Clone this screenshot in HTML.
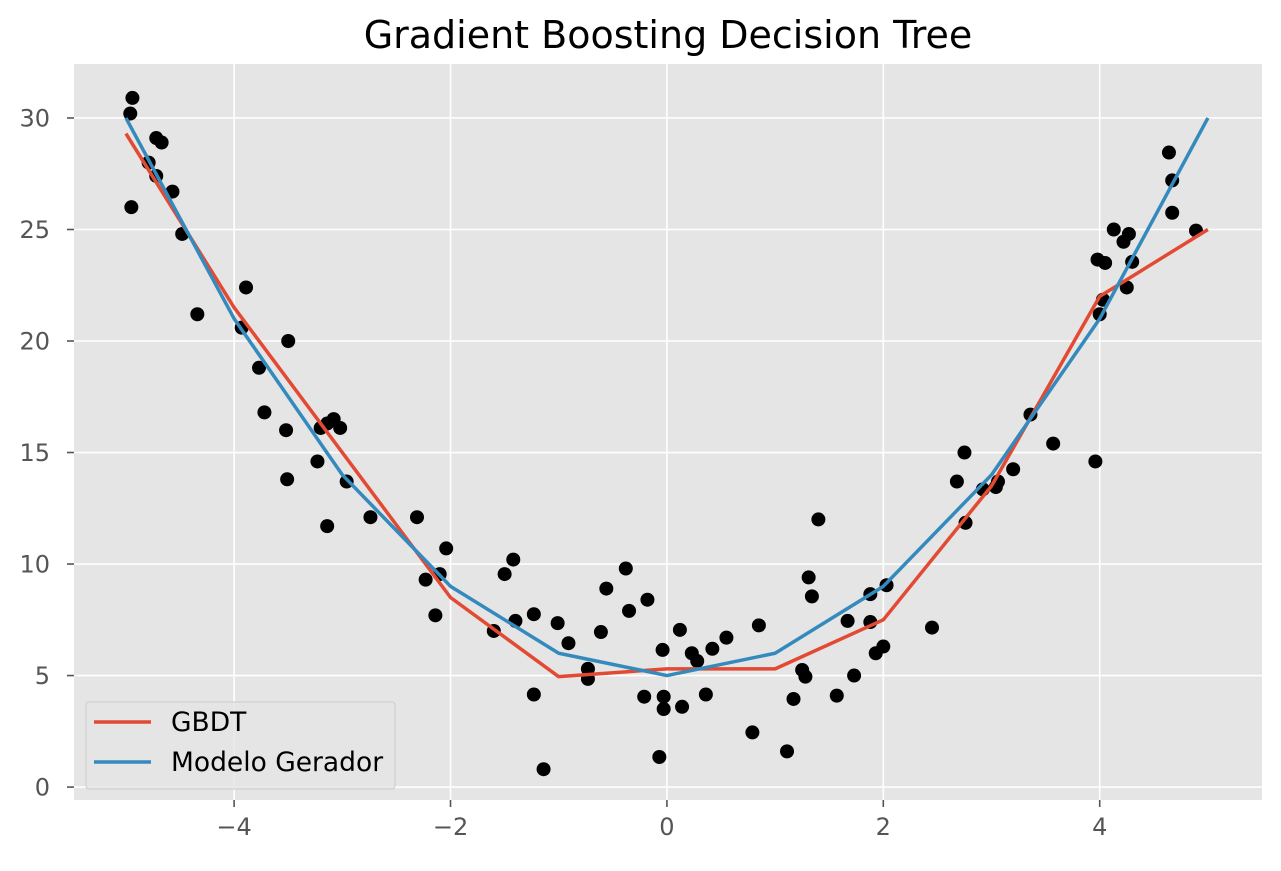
<!DOCTYPE html>
<html><head><meta charset="utf-8"><style>
body{margin:0;background:#fff;}
svg text{font-family:"DejaVu Sans","Liberation Sans",sans-serif;}
</style></head><body>
<svg id="chart" width="1281" height="866" xmlns="http://www.w3.org/2000/svg"></svg>
<script>
const xTicks=[-4,-2,0,2,4];
const yTicks=[0,5,10,15,20,25,30];
const modelX=[-5,-4,-3,-2,-1,0,1,2,3,4,5];
const gbdtY=[29.3,21.5,15,8.5,4.95,5.3,5.3,7.5,13.5,22,25];
const genY=[30,21,14,9,6,5,6,9,14,21,30];
const ptX=[-4.96,-4.94,-4.95,-4.79,-4.72,-4.67,-4.72,-4.57,-4.48,-4.34,-3.89,-3.93,-3.77,-3.72,-3.50,-3.52,-3.51,-3.23,-3.20,-3.14,-3.08,-3.02,-3.14,-2.96,-2.74,-2.31,-2.23,-2.10,-2.04,-2.14,-1.60,-1.50,-1.42,-1.40,-1.23,-1.23,-1.14,-1.01,-0.91,-0.73,-0.73,-0.61,-0.56,-0.38,-0.35,-0.18,-0.21,-0.07,-0.04,-0.03,-0.03,0.12,0.14,0.23,0.28,0.36,0.42,0.55,0.79,0.85,1.11,1.17,1.25,1.28,1.31,1.34,1.40,1.57,1.67,1.73,1.88,1.88,1.93,2.00,2.03,2.45,2.68,2.75,2.76,2.92,3.04,3.06,3.20,3.36,3.57,3.96,3.98,4.05,4.00,4.03,4.13,4.22,4.27,4.25,4.30,4.64,4.67,4.67,4.89];
const ptY=[30.2,30.9,26.0,28.0,29.1,28.9,27.4,26.7,24.8,21.2,22.4,20.6,18.8,16.8,20.0,16.0,13.8,14.6,16.1,16.3,16.5,16.1,11.7,13.7,12.1,12.1,9.3,9.55,10.7,7.7,7.0,9.55,10.2,7.45,7.75,4.15,0.8,7.35,6.45,5.3,4.85,6.95,8.9,9.8,7.9,8.4,4.05,1.35,6.15,4.05,3.5,7.05,3.6,6.0,5.65,4.15,6.2,6.7,2.45,7.25,1.6,3.95,5.25,4.95,9.4,8.55,12.0,4.1,7.45,5.0,8.65,7.4,6.0,6.3,9.05,7.15,13.7,15.0,11.85,13.35,13.45,13.7,14.25,16.7,15.4,14.6,23.65,23.5,21.2,21.85,25.0,24.45,24.8,22.4,23.55,28.45,27.2,25.75,24.95];

const L=74,R=1262,T=64,B=800;
const xMin=-5.48,xMax=5.50,yMin=-0.58,yMax=32.42;
const sx=v=>L+(v-xMin)/(xMax-xMin)*(R-L);
const sy=v=>B-(v-yMin)/(yMax-yMin)*(B-T);
const NS="http://www.w3.org/2000/svg";
const svg=document.getElementById('chart');
function mk(tag,attrs,parent){const e=document.createElementNS(NS,tag);for(const k in attrs)e.setAttribute(k,attrs[k]);(parent||svg).appendChild(e);return e;}

const bg=mk('rect',{x:L,y:T,width:R-L,height:B-T,fill:'#e5e5e5'});



xTicks.forEach(t=>{
  const x=sx(t);
  const g=mk('line',{x1:x,x2:x,y1:T,y2:B,stroke:'#fff','stroke-width':1.6});
  
  
  mk('line',{x1:x,x2:x,y1:B,y2:B+7,stroke:'#555','stroke-width':1.6});
  const tx=mk('text',{x:x,y:B+35,'text-anchor':'middle','font-size':24,fill:'#555'});
  tx.textContent=(t<0?'\u2212'+(-t):''+t);
  
  
});
yTicks.forEach(t=>{
  const y=sy(t);
  const g=mk('line',{x1:L,x2:R,y1:y,y2:y,stroke:'#fff','stroke-width':1.6});
  
  
  mk('line',{x1:L-7,x2:L,y1:y,y2:y,stroke:'#555','stroke-width':1.6});
  const tx=mk('text',{x:L-24,y:y+8.5,'text-anchor':'end','font-size':24,fill:'#555'});
  tx.textContent=''+t;
  
  
});

ptX.forEach((v,i)=>{
  const c=mk('circle',{cx:sx(v),cy:sy(ptY[i]),r:7,fill:'#000'});
  
  
});

function line(ys,color,name){
  const p=mk('polyline',{points:modelX.map((x,i)=>sx(x)+','+sy(ys[i])).join(' '),fill:'none',stroke:color,'stroke-width':3.5,'stroke-linejoin':'round'});
  
  
}
line(gbdtY,'#E24A33','gbdt-line');
line(genY,'#348ABD','generator-model-line');

const title=mk('text',{x:(L+R)/2,y:48,'text-anchor':'middle','font-size':38,fill:'#000'});
title.textContent='Gradient Boosting Decision Tree';



const lg=mk('g',{});


mk('rect',{x:86,y:702,width:309,height:87,rx:3,fill:'#e5e5e5','fill-opacity':0.8,stroke:'#ccc','stroke-width':1},lg);
mk('line',{x1:94,x2:151,y1:722,y2:722,stroke:'#E24A33','stroke-width':3.5},lg);
mk('line',{x1:94,x2:151,y1:762,y2:762,stroke:'#348ABD','stroke-width':3.5},lg);
const t1=mk('text',{x:171,y:731,'font-size':26.5,fill:'#000'},lg);
t1.textContent='GBDT';


const t2=mk('text',{x:171,y:771,'font-size':26.5,fill:'#000'},lg);
t2.textContent='Modelo Gerador';


</script>
</body></html>
